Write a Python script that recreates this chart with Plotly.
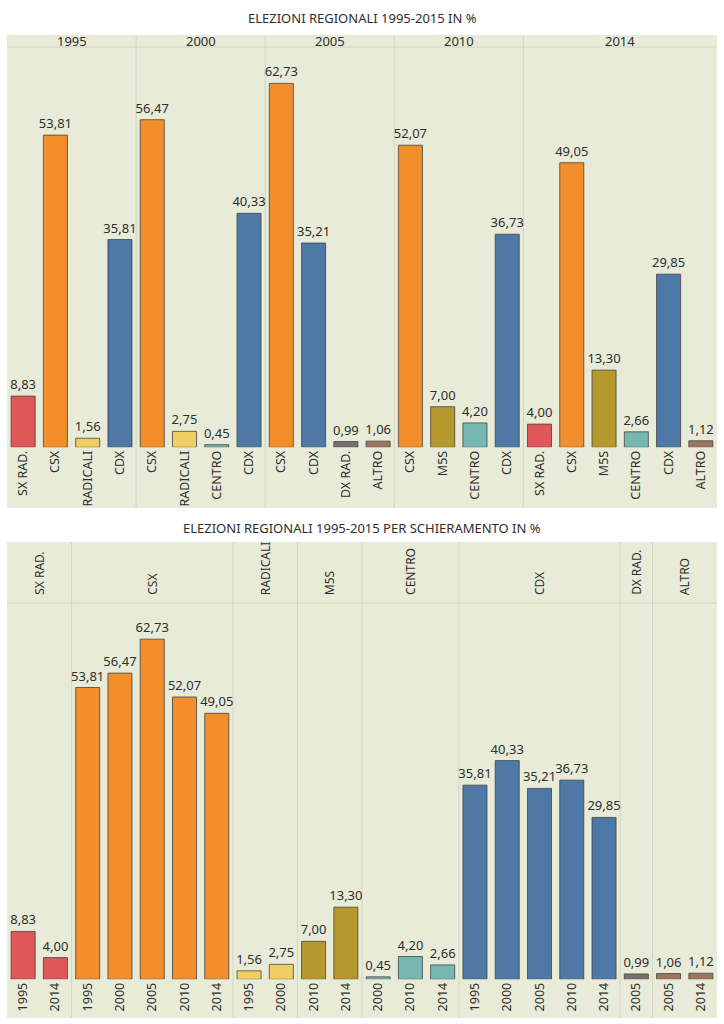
import plotly.graph_objects as go

# ---------------- data ----------------
years = ["1995", "2000", "2005", "2010", "2014"]
parties_1995 = ["SX RAD.", "CSX", "RADICALI", "CDX"]
values_1995 = [8.83, 53.81, 1.56, 35.81]
parties_2000 = ["CSX", "RADICALI", "CENTRO", "CDX"]
values_2000 = [56.47, 2.75, 0.45, 40.33]
parties_2005 = ["CSX", "CDX", "DX RAD.", "ALTRO"]
values_2005 = [62.73, 35.21, 0.99, 1.06]
parties_2010 = ["CSX", "M5S", "CENTRO", "CDX"]
values_2010 = [52.07, 7.00, 4.20, 36.73]
parties_2014 = ["SX RAD.", "CSX", "M5S", "CENTRO", "CDX", "ALTRO"]
values_2014 = [4.00, 49.05, 13.30, 2.66, 29.85, 1.12]

party_order = ["SX RAD.", "CSX", "RADICALI", "M5S", "CENTRO", "CDX", "DX RAD.", "ALTRO"]
party_colors = {
    "SX RAD.": "#e15759",
    "CSX": "#f28e2b",
    "RADICALI": "#f1ce63",
    "M5S": "#b6992d",
    "CENTRO": "#76b7b2",
    "CDX": "#4e79a7",
    "DX RAD.": "#79706e",
    "ALTRO": "#9d7660",
}

title_top = "ELEZIONI REGIONALI 1995-2015 IN %"
title_bottom = "ELEZIONI REGIONALI 1995-2015 PER SCHIERAMENTO IN %"

# ---------------- layout constants ----------------
W, H = 724, 1024
BG = "#e8ebd8"
DIV = "#d3d6c4"
TXT = "#2e2e2e"
FONT = "Noto Sans"

def py(px):
    return 1 - px / H

def fmt(v):
    return f"{v:.2f}".replace(".", ",")

by_year = [
    (years[0], parties_1995, values_1995),
    (years[1], parties_2000, values_2000),
    (years[2], parties_2005, values_2005),
    (years[3], parties_2010, values_2010),
    (years[4], parties_2014, values_2014),
]
top_x, top_y, top_lbl, top_col = [], [], [], []
top_groups = []
i = 0
for yr, ps, vs in by_year:
    s = i
    for p, v in zip(ps, vs):
        top_x.append(i); top_y.append(v); top_lbl.append(p); top_col.append(party_colors[p])
        i += 1
    top_groups.append((yr, s, i - 1))

bot_x, bot_y, bot_lbl, bot_col = [], [], [], []
bot_groups = []
i = 0
for p in party_order:
    s = i
    for yr, ps, vs in by_year:
        if p in ps:
            v = vs[ps.index(p)]
            bot_x.append(i); bot_y.append(v); bot_lbl.append(yr); bot_col.append(party_colors[p])
            i += 1
    bot_groups.append((p, s, i - 1))

fig = go.Figure()
common_bar = dict(
    marker_line_color="rgba(60,60,60,0.75)", marker_line_width=1,
    textposition="outside", cliponaxis=False, constraintext="none",
    textfont=dict(family=FONT, size=13, color=TXT), hoverinfo="skip",
)
fig.add_trace(go.Bar(x=top_x, y=top_y, marker_color=top_col,
                     text=[fmt(v) for v in top_y], xaxis="x", yaxis="y", **common_bar))
fig.add_trace(go.Bar(x=bot_x, y=bot_y, marker_color=bot_col,
                     text=[fmt(v) for v in bot_y], xaxis="x2", yaxis="y2", **common_bar))

xdom = [7 / W, 717 / W]
T_HEAD, T_TOP, T_BASE, T_BOT = 35, 47, 447.3, 508
B_HEAD, B_TOP, B_BASE, B_BOT = 542, 603, 979.3, 1018

axis_common = dict(showgrid=False, zeroline=False, showline=False, ticks="",
                   tickangle=-90, tickfont=dict(family=FONT, size=12.5, color=TXT))
fig.update_layout(
    width=W, height=H,
    margin=dict(l=0, r=0, t=0, b=0),
    paper_bgcolor="white", plot_bgcolor="rgba(0,0,0,0)",
    showlegend=False, bargap=0.255,
    font=dict(family=FONT, color=TXT),
    xaxis=dict(domain=xdom, range=[-0.5, len(top_x) - 0.5], tickmode="array",
               tickvals=top_x, ticktext=top_lbl, anchor="y", **axis_common),
    yaxis=dict(domain=[py(T_BASE), py(T_TOP)], range=[0, 69], visible=False, fixedrange=True),
    xaxis2=dict(domain=xdom, range=[-0.5, len(bot_x) - 0.5], tickmode="array",
                tickvals=bot_x, ticktext=bot_lbl, anchor="y2", **axis_common),
    yaxis2=dict(domain=[py(B_BASE), py(B_TOP)], range=[0, 69.4], visible=False, fixedrange=True),
)

shapes = []
annotations = []
for y0, y1 in [(T_HEAD, T_BOT), (B_HEAD, B_BOT)]:
    shapes.append(dict(type="rect", xref="paper", yref="paper", x0=xdom[0], x1=xdom[1],
                       y0=py(y1), y1=py(y0), fillcolor=BG, line_width=0, layer="below"))
for yy in [T_TOP, B_TOP]:
    shapes.append(dict(type="line", xref="paper", yref="paper", x0=xdom[0], x1=xdom[1],
                       y0=py(yy), y1=py(yy), line=dict(color=DIV, width=1), layer="below"))
for groups, xr, y0, y1 in [(top_groups, "x", T_HEAD, T_BOT), (bot_groups, "x2", B_HEAD, B_BOT)]:
    for g in groups[:-1]:
        xv = g[2] + 0.5
        shapes.append(dict(type="line", xref=xr, yref="paper", x0=xv, x1=xv,
                           y0=py(y1), y1=py(y0), line=dict(color=DIV, width=1), layer="below"))
for name, s, e in top_groups:
    annotations.append(dict(text=name, xref="x", yref="paper", x=(s + e) / 2, y=py(41),
                            showarrow=False, xanchor="center", yanchor="middle",
                            font=dict(family=FONT, size=13, color=TXT)))
for name, s, e in bot_groups:
    annotations.append(dict(text=name, xref="x2", yref="paper", x=(s + e) / 2, y=py(596),
                            showarrow=False, xanchor="center", yanchor="bottom", textangle=-90,
                            borderpad=0,
                            font=dict(family=FONT, size=12, color=TXT)))
annotations.append(dict(text=title_top, xref="paper", yref="paper", x=0.5, y=py(18),
                        showarrow=False, xanchor="center", yanchor="middle",
                        font=dict(family=FONT, size=13, color=TXT)))
annotations.append(dict(text=title_bottom, xref="paper", yref="paper", x=0.5, y=py(528),
                        showarrow=False, xanchor="center", yanchor="middle",
                        font=dict(family=FONT, size=13, color=TXT)))

fig.update_layout(shapes=shapes, annotations=annotations)
fig.write_html("out.html", config={"displayModeBar": False},
               post_script="document.body.style.margin='0';")
